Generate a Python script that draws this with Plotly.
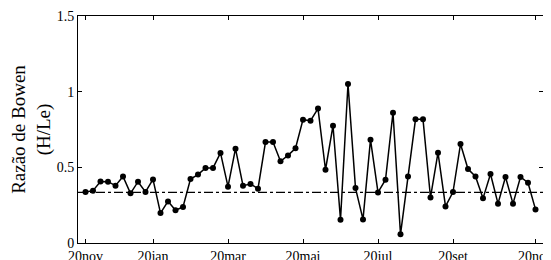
import plotly.graph_objects as go

idx = list(range(1, 62))
bowen = [0.337, 0.346, 0.407, 0.405, 0.379, 0.44, 0.328, 0.405, 0.337, 0.42,
         0.198, 0.275, 0.216, 0.238, 0.423, 0.452, 0.496, 0.496, 0.595, 0.372,
         0.623, 0.379, 0.39, 0.359, 0.667, 0.667, 0.54, 0.579, 0.626, 0.815,
         0.808, 0.888, 0.484, 0.775, 0.154, 1.051, 0.363, 0.156, 0.683, 0.334,
         0.418, 0.861, 0.057, 0.44, 0.817, 0.817, 0.301, 0.597, 0.242, 0.337,
         0.654, 0.489, 0.44, 0.295, 0.456, 0.26, 0.436, 0.26, 0.436, 0.398,
         0.222]
mean_value = 0.335
tick_pos = [1, 10, 20, 30, 40, 50, 61]
tick_text = ["20nov", "20jan", "20mar", "20mai", "20jul", "20set", "20nov"]
ytick_vals = [0, 0.5, 1, 1.5]
ytick_text = ["0", "0.5", "1", "1.5"]

font_family = "Liberation Serif, DejaVu Serif, serif"

fig = go.Figure()
fig.add_trace(go.Scatter(x=[0, 62], y=[mean_value, mean_value], mode="lines",
                         line=dict(color="black", width=1.2, dash="dashdot"),
                         showlegend=False, hoverinfo="skip"))
fig.add_trace(go.Scatter(x=idx, y=bowen, mode="lines+markers",
                         line=dict(color="black", width=1.5),
                         marker=dict(color="black", size=6),
                         showlegend=False))

fig.update_layout(
    width=543, height=252,
    margin=dict(l=70, r=8, t=8, b=17),
    paper_bgcolor="white", plot_bgcolor="white",
    font=dict(family=font_family, size=14, color="black"),
)
fig.update_xaxes(range=[0, 62], tickvals=tick_pos, ticktext=tick_text,
                 ticks="inside", ticklen=4, tickcolor="black",
                 showline=True, linecolor="black", linewidth=1, mirror="allticks",
                 showgrid=False, zeroline=False, automargin=False,
                 ticklabeloverflow="allow",
                 tickfont=dict(size=14))
fig.update_yaxes(range=[0, 1.5], tickvals=ytick_vals, ticktext=ytick_text,
                 ticks="inside", ticklen=4, tickcolor="black",
                 showline=True, linecolor="black", linewidth=1, mirror="allticks",
                 showgrid=False, zeroline=False, automargin=False,
                 ticklabeloverflow="allow",
                 title=dict(text="Razão de Bowen<br>(H/Le)", standoff=12,
                            font=dict(size=19)),
                 tickfont=dict(size=14))

fig.write_html("out.html")
